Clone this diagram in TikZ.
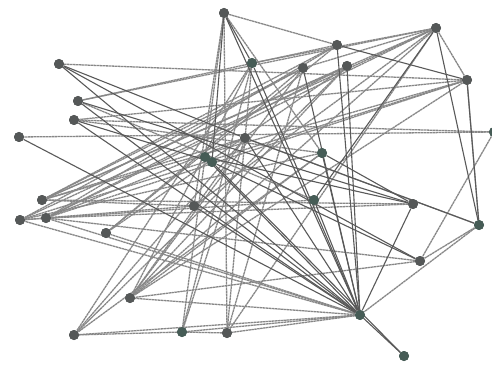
\documentclass[tikz,border=0pt]{standalone}
\definecolor{edgegray}{RGB}{135, 135, 135}
\definecolor{dotgray}{RGB}{85, 88, 88}
\definecolor{dotgreen}{RGB}{70, 92, 86}
\usepackage{tikz}
\usetikzlibrary{arrows.meta,positioning,calc}

\tikzset{
  vertex/.style={circle, fill=dotgray, inner sep=0pt, minimum size=10pt},
  gvertex/.style={vertex, fill=dotgreen},
  link/.style={draw=edgegray, line width=1.3pt, dash pattern=on 2.5pt off 0.5pt},
  dlink/.style={draw=black!65, line width=1.1pt}
}

\begin{document}
\begin{tikzpicture}[x=1pt, y=-1pt]
        \useasboundingbox (0,0) rectangle (492,366);

        % vertices
        \node[vertex] (a) at (224,13) {};
        \node[vertex] (b) at (59,64) {};
        \node[vertex] (c) at (78,101) {};
        \node[vertex] (d) at (74,120) {};
        \node[vertex] (e) at (19,137) {};
        \node[gvertex] (f) at (252,63) {};
        \node[vertex] (g) at (303,68) {};
        \node[vertex] (h) at (337,45) {};
        \node[vertex] (i) at (347,66) {};
        \node[vertex] (j) at (436,28) {};
        \node[vertex] (k) at (467,80) {};
        \node[gvertex] (l) at (494,132) {};
        \node[vertex] (m) at (245,138) {};
        \node[gvertex] (n) at (205,157) {};
        \node[gvertex] (o) at (212,162) {};
        \node[gvertex] (p) at (322,153) {};
        \node[vertex] (q) at (194,206) {};
        \node[gvertex] (r) at (314,200) {};
        \node[vertex] (s) at (42,200) {};
        \node[vertex] (t) at (20,220) {};
        \node[vertex] (u) at (46,218) {};
        \node[vertex] (w) at (106,233) {};
        \node[vertex] (y) at (130,298) {};
        \node[vertex] (z) at (74,335) {};
        \node[gvertex] (aa) at (182,332) {};
        \node[vertex] (ab) at (227,333) {};
        \node[vertex] (ad) at (413,204) {};
        \node[gvertex] (ae) at (479,225) {};
        \node[vertex] (af) at (420,261) {};
        \node[gvertex] (hub) at (360,315) {};
        \node[gvertex] (ah) at (404,356) {};

        % light edges
        \foreach \u/\v in {a/h, a/q, a/aa, a/ab, a/p, f/aa, f/ab, f/y, f/z, g/w, g/y, g/ab,
            i/s, i/u, i/w, j/f, j/g, j/c, j/s, j/t, j/u, j/y, j/ab, j/k,
            k/b, k/d, k/t, k/u, k/s, k/y, h/s, h/u, h/c,
            l/e, l/af, l/d, m/z, m/aa, m/y, m/s, m/u, p/z, p/y, p/t, p/d,
            i/z, r/c, r/t, ae/hub, ae/m, ae/k, af/y, af/ae, af/u,
            hub/y, hub/z, hub/aa, hub/ab, hub/t, hub/u, hub/w, aa/z, ab/aa,
            q/s, q/t, q/j, g/s, g/t, h/w, i/y, ad/s, ad/u}
          \draw[link] (\u) -- (\v);

        % dark edges
        \foreach \u/\v in {h/k, a/f, a/hub, a/o, b/hub, b/af, b/m, c/hub, d/hub, e/hub,
            m/hub, n/ad, o/af, n/hub, o/ah, p/hub, f/hub, h/hub, i/hub, g/hub,
            ad/hub, ad/p, ah/hub, r/hub, q/hub, j/ae, j/r, k/ae, m/ae, c/ad, d/o}
          \draw[dlink] (\u) -- (\v);

        % redraw vertices on top
        \foreach \x in {a,b,c,d,e,g,h,i,j,k,m,q,s,t,u,w,y,z,ab,ad,af}
          \fill[dotgray] (\x) circle (5pt);
        \foreach \x in {f,l,n,o,p,r,aa,ae,hub,ah}
          \fill[dotgreen] (\x) circle (5pt);
      \end{tikzpicture}
\end{document}
